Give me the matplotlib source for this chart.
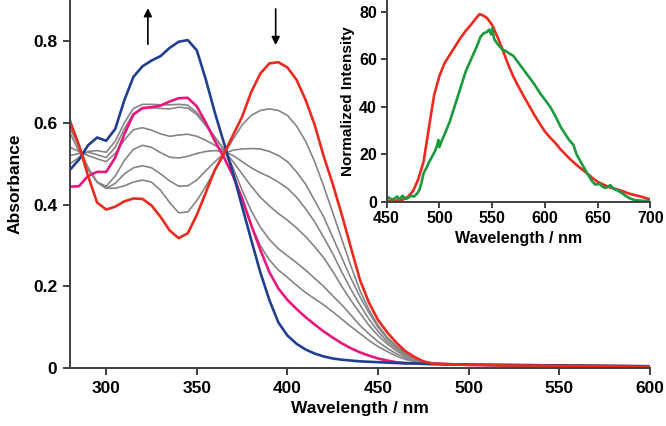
import matplotlib
matplotlib.use("Agg")
import matplotlib.pyplot as plt

plt.rcParams['font.family'] = ['Liberation Sans', 'DejaVu Sans']
plt.rcParams['font.weight'] = 'bold'

# ---------------- main absorption data ----------------
wl = [280, 285, 290, 295, 300, 305, 310, 315, 320, 325, 330, 335, 340, 345, 350,
      355, 360, 365, 370, 375, 380, 385, 390, 395, 400, 405, 410, 415, 420, 425,
      430, 435, 440, 445, 450, 455, 460, 465, 470, 475, 480, 500, 550, 600]

abs_red = [0.605, 0.545, 0.47, 0.405, 0.388, 0.395, 0.408, 0.415, 0.414, 0.398, 0.37, 0.337, 0.318, 0.33, 0.375,
           0.43, 0.485, 0.525, 0.57, 0.615, 0.675, 0.72, 0.745, 0.748, 0.735, 0.705, 0.656, 0.595, 0.518, 0.45,
           0.375, 0.295, 0.216, 0.16, 0.118, 0.088, 0.063, 0.042, 0.028, 0.017, 0.012, 0.008, 0.006, 0.004]

abs_g1 = [0.598, 0.545, 0.49, 0.455, 0.44, 0.44, 0.446, 0.455, 0.46, 0.455, 0.435, 0.405, 0.38, 0.382, 0.41,
          0.445, 0.485, 0.522, 0.56, 0.595, 0.618, 0.63, 0.634, 0.63, 0.618, 0.592, 0.555, 0.505, 0.445, 0.38,
          0.315, 0.25, 0.19, 0.143, 0.105, 0.076, 0.055, 0.038, 0.025, 0.017, 0.012, 0.008, 0.006, 0.004]

abs_g2 = [0.588, 0.54, 0.49, 0.455, 0.44, 0.452, 0.475, 0.49, 0.495, 0.49, 0.475, 0.458, 0.445, 0.446, 0.46,
          0.483, 0.505, 0.525, 0.533, 0.536, 0.537, 0.536, 0.53, 0.52, 0.505, 0.48, 0.45, 0.41, 0.37, 0.32,
          0.27, 0.22, 0.175, 0.135, 0.1, 0.073, 0.052, 0.036, 0.024, 0.016, 0.012, 0.008, 0.006, 0.004]

abs_g3 = [0.575, 0.53, 0.485, 0.455, 0.445, 0.47, 0.508, 0.535, 0.545, 0.54, 0.527, 0.516, 0.514, 0.518, 0.525,
          0.53, 0.532, 0.53, 0.52, 0.505, 0.49, 0.478, 0.468, 0.455, 0.44, 0.418, 0.39, 0.358, 0.32, 0.28,
          0.235, 0.193, 0.155, 0.12, 0.09, 0.066, 0.048, 0.033, 0.022, 0.015, 0.011, 0.008, 0.006, 0.004]

abs_g4 = [0.54, 0.53, 0.52, 0.512, 0.505, 0.525, 0.558, 0.583, 0.588, 0.582, 0.573, 0.567, 0.57, 0.572, 0.567,
          0.557, 0.545, 0.532, 0.505, 0.475, 0.445, 0.418, 0.397, 0.378, 0.362, 0.343, 0.322, 0.297, 0.27, 0.237,
          0.2, 0.166, 0.135, 0.105, 0.08, 0.06, 0.043, 0.03, 0.02, 0.014, 0.011, 0.008, 0.006, 0.004]

abs_g5 = [0.52, 0.525, 0.528, 0.522, 0.515, 0.54, 0.585, 0.622, 0.636, 0.637, 0.635, 0.634, 0.638, 0.636, 0.62,
          0.593, 0.563, 0.535, 0.49, 0.435, 0.385, 0.345, 0.315, 0.292, 0.275, 0.258, 0.24, 0.22, 0.2, 0.177,
          0.155, 0.13, 0.105, 0.084, 0.065, 0.049, 0.036, 0.026, 0.018, 0.013, 0.011, 0.008, 0.006, 0.004]

abs_g6 = [0.5, 0.515, 0.53, 0.532, 0.528, 0.555, 0.6, 0.635, 0.645, 0.645, 0.644, 0.644, 0.645, 0.643, 0.625,
          0.597, 0.565, 0.535, 0.48, 0.41, 0.35, 0.3, 0.265, 0.24, 0.222, 0.203, 0.185, 0.17, 0.155, 0.138,
          0.12, 0.102, 0.085, 0.068, 0.053, 0.041, 0.03, 0.022, 0.016, 0.012, 0.01, 0.008, 0.006, 0.004]

abs_magenta = [0.444, 0.445, 0.47, 0.48, 0.48, 0.515, 0.572, 0.62, 0.636, 0.638, 0.642, 0.652, 0.66, 0.661, 0.64,
               0.6, 0.555, 0.515, 0.47, 0.415, 0.35, 0.29, 0.235, 0.195, 0.167, 0.145, 0.125, 0.107, 0.09, 0.075,
               0.061, 0.049, 0.039, 0.031, 0.024, 0.019, 0.015, 0.013, 0.012, 0.011, 0.01, 0.009, 0.007, 0.005]

abs_blue = [0.485, 0.51, 0.545, 0.564, 0.556, 0.585, 0.655, 0.712, 0.738, 0.752, 0.763, 0.783, 0.798, 0.802, 0.777,
            0.705, 0.624, 0.55, 0.477, 0.395, 0.314, 0.235, 0.167, 0.112, 0.08, 0.06, 0.046, 0.036, 0.029, 0.024,
            0.021, 0.019, 0.017, 0.016, 0.015, 0.014, 0.013, 0.012, 0.012, 0.011, 0.011, 0.009, 0.007, 0.005]

main_xticks = [300, 350, 400, 450, 500, 550, 600]
main_yticks = [0, 0.2, 0.4, 0.6, 0.8]
main_yticklabels = ['0', '0.2', '0.4', '0.6', '0.8']

# ---------------- inset emission data ----------------
em_wl_red = [450, 455, 460, 465, 470, 475, 480, 485, 490, 495, 500, 505, 510, 515, 520, 525, 530, 535, 538,
             540, 545, 550, 555, 560, 565, 570, 575, 580, 585, 590, 595, 600, 605, 610, 615, 620, 625, 630,
             635, 640, 645, 650, 655, 660, 665, 670, 675, 680, 685, 690, 695, 700]
em_red = [0.3, 0.3, 0.5, 0.8, 2.0, 4.5, 9.5, 17, 31, 45, 53, 58.5, 62, 65.5, 69, 72, 74.6, 77.5, 79,
          78.8, 77.5, 74.5, 69.5, 64, 58, 52.8, 48.5, 44.4, 40.5, 36.6, 33, 29.6, 27, 24.7, 22, 19.7, 17.5, 15.5,
          13.7, 12, 10, 8.4, 7.3, 6.3, 5.6, 5, 4.2, 3.4, 2.8, 2.3, 1.6, 1.0]

em_wl_green = [450, 452, 455, 458, 460, 462, 465, 468, 470, 473, 476, 479, 481, 483, 485, 488, 490, 493, 496,
               498, 499, 500, 502, 505, 510, 515, 520, 525, 530, 533, 536, 539, 542, 545, 547, 549, 550, 552,
               555, 558, 560, 563, 566, 570, 575, 580, 585, 590, 595, 600, 605, 610, 615, 620, 623, 627, 630,
               635, 640, 645, 648, 652, 655, 658, 662, 665, 670, 675, 680, 685, 690, 695, 700]
em_green = [1.0, 1.8, 0.8, 1.5, 2.2, 1.0, 2.5, 1.2, 1.5, 2.5, 2.2, 3.5, 5, 8, 12, 14.5, 16.5, 19, 21.5,
            24, 26, 23, 25.5, 28.5, 34, 41, 48, 55, 60, 63, 66, 69.5, 71, 71.5, 72.5, 70.5, 73, 68.5,
            66.5, 65, 64, 63.5, 62.5, 61.5, 58.5, 55.5, 52.5, 49.5, 46, 43, 40, 36, 31.5, 28, 26, 24, 20,
            16, 12, 8.5, 7.2, 7.5, 6.2, 5.8, 7, 5.5, 4.5, 3, 1.5, 0.7, 0.5, 0.3, 0.5]

inset_xticks = [450, 500, 550, 600, 650, 700]
inset_yticks = [0, 20, 40, 60, 80]

# ---------------- colours ----------------
c_red = '#ec2a1f'
c_blue = '#203f90'
c_mag = '#e8177f'
c_gray = '#858585'
c_green = '#1c9a3f'
c_axis = '#404040'

fig = plt.figure(figsize=(6.66, 4.26), dpi=100)
ax = fig.add_axes([0.105, 0.1354, 0.871, 0.8646])

for g in [abs_g1, abs_g2, abs_g3, abs_g4, abs_g5, abs_g6]:
    ax.plot(wl, g, color=c_gray, lw=1.2)
ax.plot(wl, abs_magenta, color=c_mag, lw=1.9)
ax.plot(wl, abs_blue, color=c_blue, lw=1.9)
ax.plot(wl, abs_red, color=c_red, lw=1.9)

ax.set_xlim(280, 600)
ax.set_ylim(0, 0.9)
ax.set_xticks(main_xticks)
ax.set_yticks(main_yticks)
ax.set_yticklabels(main_yticklabels)
for s in ['top', 'right']:
    ax.spines[s].set_visible(False)
for s in ['left', 'bottom']:
    ax.spines[s].set_color(c_axis)
    ax.spines[s].set_linewidth(1.4)
ax.tick_params(direction='out', length=5, width=1.4, color=c_axis, labelsize=12.5, pad=4)
for lab in ax.get_xticklabels() + ax.get_yticklabels():
    lab.set_fontweight('bold')
ax.set_xlabel('Wavelength / nm', fontsize=12.5, fontweight='bold', labelpad=4)
ax.set_ylabel('Absorbance', fontsize=12.5, fontweight='bold', labelpad=8)

# arrows
ax.annotate('', xy=(323, 0.887), xytext=(323, 0.785),
            arrowprops=dict(arrowstyle='-|>', color='black', lw=1.2, mutation_scale=12))
ax.annotate('', xy=(393.5, 0.783), xytext=(393.5, 0.885),
            arrowprops=dict(arrowstyle='-|>', color='black', lw=1.2, mutation_scale=12))

# inset
ins = fig.add_axes([0.5806, 0.5265, 0.3959, 0.4735])
ins.plot(em_wl_red, em_red, color=c_red, lw=1.9)
ins.plot(em_wl_green, em_green, color=c_green, lw=1.9)
ins.set_xlim(450, 700)
ins.set_ylim(0, 85)
ins.set_xticks(inset_xticks)
ins.set_yticks(inset_yticks)
for s in ['top', 'right']:
    ins.spines[s].set_visible(False)
for s in ['left', 'bottom']:
    ins.spines[s].set_color(c_axis)
    ins.spines[s].set_linewidth(1.4)
ins.tick_params(direction='out', length=4, width=1.4, color=c_axis, labelsize=11.5, pad=3)
for lab in ins.get_xticklabels() + ins.get_yticklabels():
    lab.set_fontweight('bold')
ins.set_xlabel('Wavelength / nm', fontsize=11.5, fontweight='bold', labelpad=3)
ins.set_ylabel('Normalized Intensity', fontsize=11, fontweight='bold', labelpad=3)
ins.patch.set_alpha(0)

fig.savefig('out.png', dpi=100)
